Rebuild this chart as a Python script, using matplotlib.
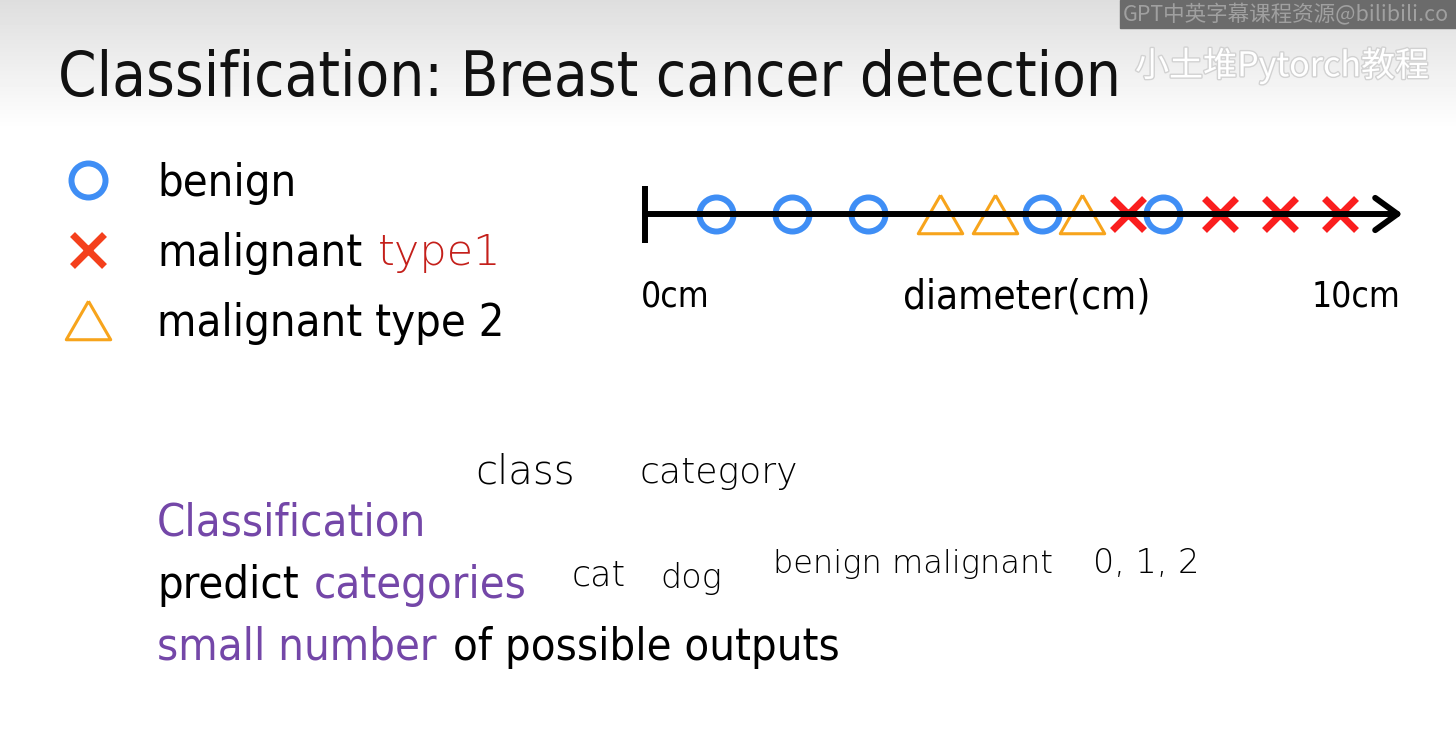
import numpy as np
import matplotlib
matplotlib.use("Agg")
import matplotlib.pyplot as plt
from matplotlib.lines import Line2D
from matplotlib.patches import Rectangle
from matplotlib.transforms import IdentityTransform
import matplotlib.patheffects as pe

W, H = 1456, 731

# tumour diameters along the number line (cm)
benign_cm = [0.95, 1.96, 2.97, 5.29, 6.91]
type2_cm = [3.93, 4.67, 5.83]
type1_cm = [6.44, 7.67, 8.47, 9.27]

legend_labels = ["benign", "malignant", "malignant type 2"]
title = "Classification: Breast cancer detection"

blue = "#3f8ef5"
red = "#fa1e1e"
red_leg = "#f4401c"
orange = "#f7a41c"
purple = "#7447a8"
hand_red = "#c41f1a"

SLIDE = dict(family="DejaVu Sans", stretch="condensed")
HAND = dict(family="DejaVu Sans", weight="light")

# equilateral-ish triangle marker
tri = [(0, 0.866), (-1, -0.866), (1, -0.866), (0, 0.866)]

fig = plt.figure(figsize=(W / 100, H / 100), dpi=100)

# background axes in pixel units
bg = fig.add_axes([0, 0, 1, 1])
bg.set_xlim(0, W)
bg.set_ylim(H, 0)
bg.axis("off")
grad = np.linspace(0.87, 1.0, 130)[:, None]
bg.imshow(grad, extent=(0, W, 130, 0), aspect="auto", cmap="gray",
          vmin=0, vmax=1, origin="upper")

bg.text(58, 96, title, fontsize=44.3, va="baseline", color="#111111", **SLIDE)

# watermarks
bg.add_patch(Rectangle((1120, 0), W - 1120, 28, color="#6b6b6b"))
bg.text(1123, 15, "GPT中英字幕课程资源@bilibili.co", fontsize=15.5, va="center",
        color="#a0a0a0", family=["Noto Sans CJK SC", "DejaVu Sans"])
bg.text(1135, 66, "小土堆Pytorch教程", fontsize=24.5, va="center", color="white",
        family=["Noto Sans CJK SC", "DejaVu Sans"],
        path_effects=[pe.withStroke(linewidth=2, foreground="#d2d2d2")])

# number line
ax = fig.add_axes([645 / W, 1 - 259 / H, 750 / W, 90 / H])
ax.set_xlim(0, 10)
ax.set_ylim(-1, 1)
ax.axis("off")
ax.plot(benign_cm, [0] * len(benign_cm), ls="none", marker="o", ms=24.5,
        mfc="none", mec=blue, mew=4.3, zorder=2, clip_on=False)
ax.plot(type2_cm, [0] * len(type2_cm), ls="none", marker=tri, ms=32,
        mfc="none", mec=orange, mew=2.2, zorder=2, clip_on=False)
ax.plot(type1_cm, [0] * len(type1_cm), ls="none", marker="x", ms=23,
        mec=red, mew=5, zorder=2, clip_on=False)
ax.plot([0, 0], [-0.64, 0.62], color="black", lw=4.3, solid_capstyle="butt",
        zorder=3, clip_on=False)
ax.annotate("", xy=(10.1, 0), xytext=(0, 0), annotation_clip=False,
            arrowprops=dict(arrowstyle="->,head_length=0.8,head_width=0.58",
                            mutation_scale=20, lw=4.3, color="black",
                            shrinkA=0, shrinkB=0), zorder=3)
ax.text(-0.05, -1.83, "0cm", ha="left", va="center", fontsize=25.5, **SLIDE)
ax.text(5.09, -1.85, "diameter(cm)", ha="center", va="center", fontsize=29, **SLIDE)
ax.text(10.07, -1.83, "10cm", ha="right", va="center", fontsize=25.5, **SLIDE)

# legend
handles = [
    Line2D([], [], ls="none", marker="o", ms=24.5, mfc="none", mec=blue, mew=4.3),
    Line2D([], [], ls="none", marker="x", ms=23, mec=red_leg, mew=5),
    Line2D([], [], ls="none", marker=tri, ms=32, mfc="none", mec=orange, mew=2.2),
]
leg = fig.legend(handles, legend_labels, loc="upper left",
                 bbox_to_anchor=(61 / W, 1 - 162 / H), frameon=False,
                 prop=dict(size=32.5, **SLIDE), handlelength=1.2,
                 handletextpad=0.93, labelspacing=0.6, borderpad=0,
                 borderaxespad=0)

# bottom text
t = bg.text(157, 535, "Classification", fontsize=32.5, va="baseline",
            color=purple, **SLIDE)
t1 = bg.text(157, 607, "predict", fontsize=32.5, va="bottom", color="black", **SLIDE)
bg.annotate("categories", xy=(1, 0), xycoords=t1, xytext=(11, 0),
            textcoords="offset points", va="bottom", fontsize=32.5,
            color=purple, **SLIDE)
t2 = bg.text(157, 669, "small number", fontsize=32.5, va="bottom", color=purple, **SLIDE)
bg.annotate("of possible outputs", xy=(1, 0), xycoords=t2, xytext=(12, 0),
            textcoords="offset points", va="bottom", fontsize=32.5,
            color="black", **SLIDE)

# handwritten notes
bg.text(475, 483, "class", fontsize=29, va="baseline", **HAND)
bg.text(640, 483, "category", fontsize=26, va="baseline", **HAND)
bg.text(572, 586, "cat", fontsize=25, va="baseline", **HAND)
bg.text(660, 588, "dog", fontsize=24, va="baseline", **HAND)
bg.text(773, 573, "benign malignant", fontsize=23, va="baseline", **HAND)
bg.text(1093, 573, "0, 1, 2", fontsize=24, va="baseline", **HAND)

fig.canvas.draw()
bb = leg.get_texts()[1].get_window_extent()
fig.text(bb.x1 + 15, bb.y0 + 2, "type1", transform=IdentityTransform(),
         fontsize=31, color=hand_red, va="bottom", **HAND)

fig.savefig("out.png", dpi=100)
